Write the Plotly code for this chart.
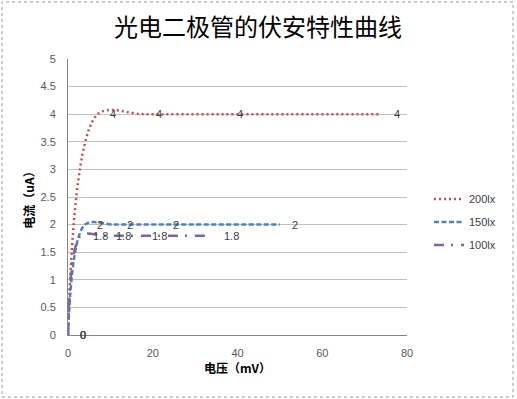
import plotly.graph_objects as go

# ---- data ----
series_names = ["200lx", "150lx", "100lx"]
voltage_200 = [0, 7, 18, 37, 74]
current_200 = [0, 4, 4, 4, 4]
voltage_150 = [0, 4, 11, 22, 50]
current_150 = [0, 2, 2, 2, 2]
voltage_100 = [0, 3, 8.5, 17, 34]
current_100 = [0, 1.8, 1.8, 1.8, 1.8]

x_ticks = [0, 20, 40, 60, 80]
y_ticks = [0, 0.5, 1, 1.5, 2, 2.5, 3, 3.5, 4, 4.5, 5]

colors = ["#C0504D", "#4F81BD", "#8064A2"]
dashes = ["2px,3px", "5px,2.5px", "10px,7px,2px,8px"]
xs = [voltage_200, voltage_150, voltage_100]
ys = [current_200, current_150, current_100]

LAT = "Liberation Sans, Noto Sans CJK SC, sans-serif"
CJK = "Noto Sans CJK SC, sans-serif"

W, H = 517, 399
ML, MR, MT, MB = 68, 110, 59, 64

fig = go.Figure()
for name, x, y, c, d in zip(series_names, xs, ys, colors, dashes):
    fig.add_trace(go.Scatter(
        x=x, y=y, name=name, mode="lines", legendgroup=name,
        line=dict(color=c, width=2.5, dash=d, shape="spline", smoothing=0.9),
        hoverinfo="x+y",
    ))

annotations = []
for x, y in zip(xs, ys):
    for xv, yv in zip(x, y):
        annotations.append(dict(
            x=xv, y=yv, xref="x", yref="y", text=f"{yv:g}", showarrow=False,
            xanchor="left", yanchor="middle", xshift=10,
            font=dict(family=LAT, size=11, color="#404040"),
        ))

pw = W - ML - MR
ph = H - MT - MB
shapes = [dict(
    type="rect", xref="paper", yref="paper",
    x0=(2 - ML) / pw, x1=(513 - ML) / pw,
    y0=(H - MB - 397) / ph, y1=(H - MB - 2) / ph,
    line=dict(color="#9a9a9a", width=1, dash="dot"), fillcolor="rgba(0,0,0,0)",
    layer="below",
)]

fig.update_layout(
    width=W, height=H,
    margin=dict(l=ML, r=MR, t=MT, b=MB),
    paper_bgcolor="white", plot_bgcolor="white",
    title=dict(text="光电二极管的伏安特性曲线", x=(258) / W, xanchor="center",
               y=1 - 28 / H, yanchor="middle", yref="container",
               font=dict(family=CJK, size=24, color="#000000")),
    xaxis=dict(range=[0, 80], tickvals=x_ticks, showgrid=False, zeroline=False,
               showline=True, linecolor="#868686", linewidth=1,
               ticks="outside", ticklen=8, tickcolor="rgba(0,0,0,0)",
               tickfont=dict(family=LAT, size=11, color="#595959"),
               title=dict(text="电压（mV）", standoff=5,
                          font=dict(family=CJK, size=12, color="#000000", weight="bold"))),
    yaxis=dict(range=[0, 5], tickvals=y_ticks, showgrid=True, gridcolor="#c0c0c0", gridwidth=1,
               zeroline=False, showline=True, linecolor="#868686", linewidth=1,
               ticks="outside", ticklen=9, tickcolor="rgba(0,0,0,0)",
               tickfont=dict(family=LAT, size=11, color="#595959"),
               title=dict(text="电流（uA）", standoff=3,
                          font=dict(family=CJK, size=12, color="#000000", weight="bold"))),
    legend=dict(x=(429 - ML) / pw, xanchor="left", y=(H - MB - 222) / ph, yanchor="middle",
                font=dict(family=LAT, size=11, color="#404040"),
                tracegroupgap=4, bgcolor="rgba(0,0,0,0)"),
    annotations=annotations,
    shapes=shapes,
    showlegend=True,
)

fig.write_html("out.html", config={"displayModeBar": False},
               post_script="document.body.style.margin='0';document.body.style.overflow='hidden';")
